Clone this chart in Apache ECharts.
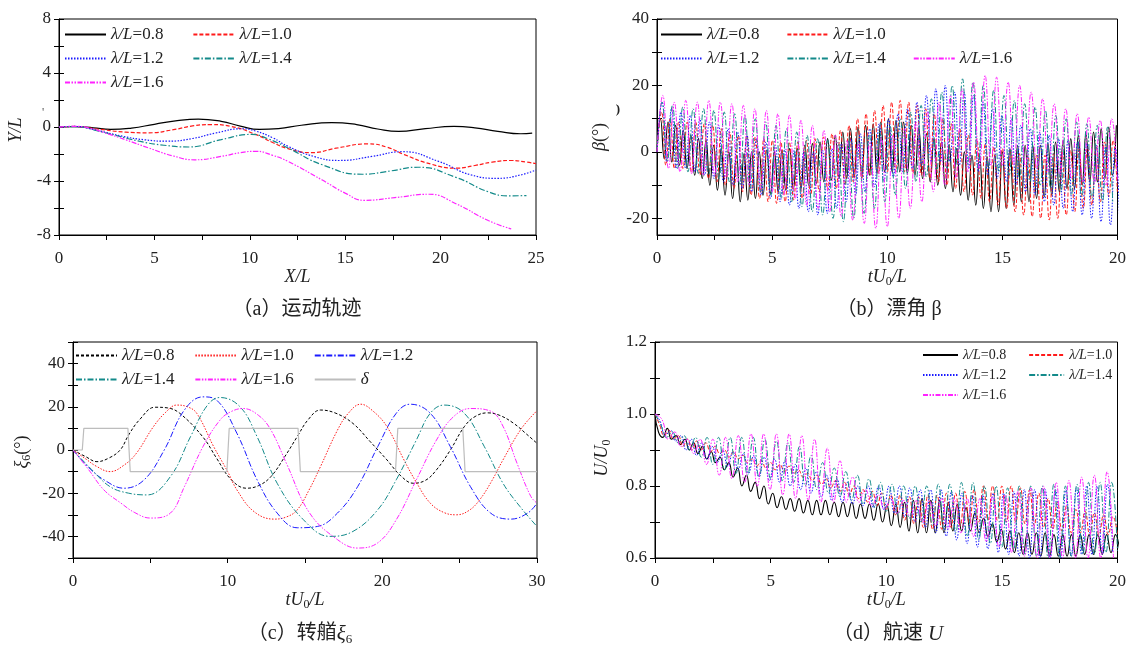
<!DOCTYPE html>
<html><head><meta charset="utf-8">
<script src="https://cdn.jsdelivr.net/npm/echarts@6.0.0/dist/echarts.min.js"></script>
<style>html,body{margin:0;padding:0;background:#fff}#c{width:1129px;height:646px}</style>
</head><body><div id="c"></div>
<script>
// ---------- DATA ----------
// (a) trajectories [X/L, Y/L]
const traj08 = [[0,0],[0.8,0.03],[1.8,-0.06],[2.7,-0.18],[3.8,-0.08],[5,0.2],[6.2,0.47],[7.3,0.58],[8.5,0.42],[9.5,0.07],[10.5,-0.18],[11.5,-0.12],[12.7,0.13],[14.3,0.33],[15.6,0.18],[16.7,-0.15],[17.8,-0.33],[19.2,-0.12],[20.7,0.04],[21.8,-0.06],[23,-0.32],[24.2,-0.5],[24.8,-0.45]];
const traj10 = [[0,0],[0.8,0.04],[2,-0.15],[3.5,-0.38],[4.7,-0.43],[6,-0.2],[7,0.08],[8,0.18],[9,0.05],[10.3,-0.55],[11.2,-1.15],[12,-1.6],[13.2,-1.9],[14.6,-1.55],[16.2,-1.25],[17.2,-1.5],[18.1,-2.05],[19.5,-2.75],[20.8,-3.05],[21.8,-2.85],[22.7,-2.6],[23.7,-2.48],[24.5,-2.6],[25,-2.72]];
const traj12 = [[0,0],[0.8,0.04],[2,-0.25],[3.3,-0.68],[4.5,-0.95],[5.7,-1.05],[7,-0.85],[8.2,-0.45],[9.6,-0.13],[10.3,-0.3],[11.2,-0.8],[12,-1.43],[13.4,-2.2],[14.7,-2.48],[16.4,-2.18],[18,-1.83],[19.9,-2.55],[21.6,-3.55],[23,-3.8],[24.2,-3.55],[25,-3.18]];
const traj14 = [[0,0],[0.8,0.03],[2.2,-0.35],[4.2,-1.05],[5.5,-1.35],[6.8,-1.48],[8.5,-0.93],[10.1,-0.55],[11,-0.9],[12,-1.55],[13.8,-2.8],[15.9,-3.5],[17.4,-3.25],[18.8,-2.98],[20.8,-3.73],[22.5,-4.8],[23.6,-5.1],[24.5,-5.08]];
const traj16 = [[0,0],[0.8,0.05],[1.5,-0.05],[2.4,-0.43],[3.5,-0.95],[4.7,-1.55],[6,-2.15],[7.1,-2.43],[8.5,-2.18],[9.5,-1.9],[10.3,-1.8],[11.2,-2.1],[12,-2.55],[13.8,-3.93],[15,-4.9],[16,-5.43],[17.6,-5.23],[19.4,-4.98],[20.8,-5.68],[22.5,-6.93],[23.7,-7.55]];

// (b) drift angle: alternating peak/trough values, first extreme time t0, half period dt
const beta08 = {start:0, t0:0.15, dt:0.165, ext:[10,-2,9,-3,8,-4,6.5,-5,5,-7,4,-8,3.5,-10,2,-11.5,1,-13,0,-14,-1,-15,-0.5,-14.5,0,-14,0,-13,0.5,-12.5,0,-12,0.5,-11.5,1,-11,1,-11,2,-10,2.5,-9.5,3,-9,4,-8.5,5,-8,6,-8,7,-7.5,7.5,-7,8,-7,8.5,-6.5,9,-6,10,-6,9.5,-6,9,-6.5,8,-7,7,-8,5.5,-9,4,-10,3,-11,2,-12,1,-13,0,-14.5,-1,-16,-1,-17,-1.5,-18,-1,-18,0,-17,1,-16,2,-15,2,-15,2,-14,2,-13.5,2.5,-13,3,-12,3.5,-11,4,-11,5,-10,5.5,-9,6,-9,7,-8,7.5,-7,8]};
const beta10 = {start:0, t0:0.2, dt:0.185, ext:[12,-4,10,-5,9,-5,9,-6,9,-7,8.5,-8,8,-9,7,-10,6,-11,5,-12,5,-13,4.5,-14,4,-15,3.5,-15.5,3,-15,3,-14.5,3,-14,3.5,-13,4,-12,4.5,-11.5,5.5,-11,6.5,-10,8,-9,10,-8,11.5,-7,12.5,-6.5,14,-6,15,-6,15.5,-6,15,-6.5,14,-7,13,-8,11.5,-9,10,-10,8.5,-11,7,-12,5,-13,4,-14,2.5,-15,1.5,-16,1,-17,0,-18,-0.5,-19,-1,-19.5,-1,-20,-1,-20.5,-0.5,-20,0,-19,0.5,-18,1,-17,1.5,-16,2,-15,3,-13.5,3.5,-12]};
const beta12 = {start:0, t0:0.22, dt:0.205, ext:[15,-3,13,-5,12,-5,11,-6,10,-7,9,-8,8,-9,7,-10,6,-11,5,-12,4,-13,3,-14,2,-15,1,-16,0.5,-17,0,-18,0,-19,0.5,-18.5,1,-17,2.5,-15,4,-13,5.5,-12,7,-10.5,8.5,-9,10,-7.5,11.5,-6,13,-5,15,-4,17,-3,19,-3,20,-3,18,-4,18,-5,17,-6,15,-7,13,-8,11,-9,10,-10,8,-12,7,-13,6,-15,5,-16,4,-17,3.5,-18,3,-19,2.5,-20,2,-21,2,-22,1.5,-23]};
const beta14 = {start:0, t0:0.22, dt:0.225, ext:[15,-3,14,-5,13.5,-6,13,-6.5,13,-7,12.5,-8,12,-9,11.5,-10,11,-11,10,-12,9,-13,8,-14,7,-15,6,-16.5,5,-18,4,-19,3.5,-20,3,-21,3.5,-20,4,-18.5,5,-17,6,-15,8,-13,10,-11,12,-9,14,-7.5,16,-6,18,-5,20,-4,22,-4,21,-4.5,20,-5,18.5,-6,17,-7,15.5,-8,14.5,-9,13.5,-10,12.5,-11,11,-12,10,-13,9,-13.5,8.5,-14,8,-15,7.5,-15.5]};
const beta16 = {start:0, t0:0.25, dt:0.25, ext:[17,-5,15,-6,15.5,-6.5,15,-7,15.5,-7,15,-8,14.5,-9,14,-10,13,-11,12.5,-12,11.5,-13,11,-14,9.5,-16,8,-17,6.5,-18,5,-19.5,3.5,-20.5,3,-21.5,3,-23,4,-22.5,5,-20,7,-17,9,-15,12,-12,15,-10,17,-8,19,-6,21,-5,23,-4,22.5,-4,21,-4,20,-4.5,18,-5,16,-6,14.5,-7,13,-8,11.5,-9,10.5,-9.5,9.5,-10,10,-9]};

// (c) yaw angle [tU0/L, deg]
const yaw08 = [[0,0],[0.8,-3],[1.55,-5.4],[2.3,-3.8],[3.05,0],[3.6,7],[4.3,14],[5.3,19.8],[6.1,19.5],[6.9,17],[8.4,6],[9.3,-4],[10.2,-13.5],[11.2,-17.7],[12,-16.5],[12.8,-12.3],[13.7,-3],[14.5,6.2],[15.2,14],[16,18.5],[17,17],[18.1,12.3],[19.2,4],[20.3,-4.6],[21.2,-12],[22,-15.4],[22.8,-14],[23.5,-9.2],[24.4,0],[25.3,10.8],[26,15.5],[26.8,17.2],[27.6,16],[28.5,12.3],[29.3,7.5],[30,3.1]];
const yaw10 = [[0,0],[0.8,-4],[1.5,-7.5],[2.4,-10],[3.3,-7],[4.1,-1.5],[5.2,10.8],[6,17.5],[6.7,20.8],[7.4,20],[8,17],[9.1,1.5],[10,-10],[10.6,-18.5],[11.7,-28.5],[13,-32],[13.8,-31],[14.5,-27.7],[15.3,-18],[16,-7.7],[17.1,9.2],[17.8,17],[18.6,21.2],[19.4,18],[20.3,10.8],[21.4,-4.6],[22.2,-15],[23.1,-24.6],[24,-29],[24.8,-30],[25.6,-28],[26.3,-23],[27.1,-14],[27.8,-4.6],[29,10],[30,18.2]];
const yaw12 = [[0,0],[1,-8],[2,-13.8],[3.3,-17.7],[4.6,-13.8],[5.9,0],[7.2,18.5],[8.4,24.6],[9.3,23],[10.6,7.7],[11.9,-13.8],[13.2,-29.2],[14.5,-36],[15.8,-35.4],[17.1,-29.2],[18.4,-17],[19.7,1.5],[20.9,17],[21.8,21.2],[23.1,17],[24.4,1.5],[25.7,-17],[27,-29.2],[28.3,-32],[29.4,-29.2],[30,-24.6]];
const yaw14 = [[0,0],[1.2,-9],[2.4,-17],[3.6,-20],[4.8,-20.8],[6.3,-12.3],[7.6,6.2],[8.7,20.8],[9.5,24.3],[10.8,20],[11.9,6.2],[13.2,-15.4],[14.9,-32.3],[16.6,-40],[18.1,-37.7],[19.7,-27.7],[20.9,-13.8],[22.2,4.6],[23.1,17],[24,20.8],[25.3,17],[26.6,1.5],[27.8,-15.4],[28.9,-26.2],[30,-35.4]];
const yaw16 = [[0,0],[1,-9],[2,-18.5],[3.1,-24.6],[4,-29],[5,-31.5],[6.3,-29.2],[7.2,-17],[8.4,1.5],[9.5,13.8],[10.2,17.7],[11,19.2],[12,16],[12.8,9.2],[13.8,-6.2],[15.3,-29.2],[17.1,-41.5],[18.4,-45.4],[19.7,-43],[20.9,-32.3],[22.2,-13.8],[23.5,4.6],[24.6,15.4],[25.7,19.2],[27,18],[27.8,11],[28.7,-6],[29.6,-21.5],[30,-24.6]];
const rudder = [[0,0],[0.6,0],[0.7,10],[3.55,10],[3.7,-10],[9.95,-10],[10.1,10],[14.55,10],[14.7,-10],[20.85,-10],[21,10],[25.2,10],[25.35,-10],[30,-10]];

// (d) speed U/U0: alternating peak/trough values
const speed08 = {start:1.0, t0:0.15, dt:0.19, ext:[.95,.935,.96,.93,.94,.915,.93,.90,.92,.89,.91,.875,.895,.865,.88,.845,.865,.825,.85,.80,.83,.785,.81,.765,.80,.75,.78,.74,.77,.735,.765,.73,.765,.725,.76,.72,.76,.72,.76,.72,.755,.715,.755,.715,.755,.71,.75,.71,.75,.705,.75,.70,.745,.69,.75,.685,.755,.675,.76,.67,.765,.67,.76,.67,.76,.67,.755,.675,.75,.675,.74,.675,.725,.67,.71,.66,.695,.645,.68,.625,.675,.615,.67,.61,.67,.61,.67,.605,.67,.605,.665,.605,.665,.605,.665,.605,.665,.61,.665,.61,.665,.61,.665,.615,.665,.62]};
const speed10 = {start:1.0, t0:0.2, dt:0.2, ext:[.97,.94,.955,.93,.94,.91,.93,.90,.925,.90,.92,.895,.91,.89,.90,.88,.895,.875,.885,.865,.875,.855,.87,.85,.865,.845,.86,.84,.855,.835,.845,.825,.835,.815,.83,.805,.82,.795,.815,.785,.81,.775,.80,.765,.79,.755,.785,.745,.78,.735,.775,.72,.775,.705,.77,.695,.77,.685,.775,.68,.775,.68,.78,.685,.78,.69,.785,.695,.79,.70,.80,.705,.80,.705,.80,.70,.80,.70,.795,.695,.79,.69,.78,.685,.765,.68,.755,.675,.745,.67,.735,.67,.73,.665,.725,.665,.72,.665,.715,.665]};
const speed12 = {start:1.0, t0:0.22, dt:0.225, ext:[.98,.94,.955,.925,.94,.90,.93,.885,.92,.875,.91,.865,.90,.855,.895,.845,.89,.835,.885,.825,.88,.815,.875,.81,.87,.80,.86,.79,.85,.78,.84,.77,.83,.76,.82,.755,.81,.75,.80,.745,.80,.74,.80,.735,.80,.725,.80,.715,.795,.70,.79,.685,.79,.67,.79,.66,.785,.65,.78,.64,.775,.63,.775,.625,.78,.615,.78,.61,.785,.605,.79,.60,.79,.60,.79,.60,.79,.60,.79,.605,.795,.61,.80,.61,.80,.61,.805,.615]};
const speed14 = {start:1.0, t0:0.25, dt:0.25, ext:[.97,.935,.95,.92,.94,.90,.935,.88,.935,.86,.935,.845,.935,.835,.935,.83,.935,.825,.93,.82,.925,.815,.92,.81,.91,.80,.885,.79,.865,.78,.85,.77,.84,.76,.83,.75,.82,.74,.81,.73,.805,.72,.80,.71,.80,.70,.80,.69,.805,.68,.805,.67,.81,.66,.81,.65,.80,.64,.80,.63,.795,.62,.80,.61,.80,.605,.80,.60,.805,.60,.80,.605,.805,.61,.81,.61,.81,.615,.81,.62]};
const speed16 = {start:1.0, t0:0.3, dt:0.275, ext:[.985,.93,.95,.91,.93,.89,.93,.86,.93,.83,.935,.82,.94,.81,.945,.80,.945,.79,.945,.775,.945,.765,.94,.76,.93,.755,.905,.755,.87,.755,.825,.755,.79,.745,.775,.735,.765,.725,.76,.715,.76,.70,.76,.69,.765,.68,.765,.67,.765,.66,.765,.645,.77,.63,.775,.615,.785,.605,.795,.60,.80,.60,.81,.60,.815,.60,.825,.60,.83,.60,.84,.60]};

// tick / label values
const aXTicks = [0,2.5,5,7.5,10,12.5,15,17.5,20,22.5,25], aXLabels = [0,5,10,15,20,25];
const aYTicks = [-8,-6,-4,-2,0,2,4,6,8], aYLabels = [-8,-4,0,4,8];
const bXTicks = [0,2.5,5,7.5,10,12.5,15,17.5,20], bXLabels = [0,5,10,15,20];
const bYTicks = [-20,-10,0,10,20,30,40], bYLabels = [-20,0,20,40];
const cXTicks = [0,5,10,15,20,25,30], cXLabels = [0,10,20,30];
const cYTicks = [-50,-40,-30,-20,-10,0,10,20,30,40,50], cYLabels = [-40,-20,0,20,40];
const dXTicks = bXTicks, dXLabels = bXLabels;
const dYTicks = [0.6,0.7,0.8,0.9,1.0,1.1,1.2], dYLabels = [0.6,0.8,1.0,1.2];

// ---------- BUILD ----------
function osc(s){
  const pts=[[0,s.start]];
  s.ext.forEach((v,i)=>pts.push([+(s.t0+i*s.dt).toFixed(4), v]));
  return pts;
}
const SERIF = '"Liberation Serif","Times New Roman",serif';
const CAP = '"Liberation Serif","Noto Sans CJK SC",serif';
const TXT = '#222';
const C = {k:'#000000', r:'#ff1a1a', b:'#1a1aff', t:'#138a8a', m:'#ff22ff', g:'#bdbdbd'};
const D = {solid:'solid', dash:[4,2], dot:[1.5,1.5], dashdot:[6,2,1.5,2], dashdd:[5,1.5,1.5,1.5,1.5,1.5], sdash:[3,2]};

const richName = (fs)=>({
  i:{fontStyle:'italic', fontFamily:SERIF, fontSize:fs, color:TXT, lineHeight:22},
  n:{fontFamily:SERIF, fontSize:fs, color:TXT, lineHeight:22},
  s:{fontFamily:SERIF, fontSize:Math.round(fs*0.65), color:TXT, lineHeight:12, verticalAlign:'bottom'}
});
const tU = '{i|tU}{s|0}{i|/L}';

function xAx(gi,min,max,ticks,labels,name,fmt){
  return {gridIndex:gi,type:'value',min,max,name,nameLocation:'middle',nameGap:27,
    nameTextStyle:{rich:richName(18)},
    axisLine:{show:true,onZero:false,lineStyle:{color:'#000',width:1}},
    axisTick:{show:true,inside:false,length:5,customValues:ticks,lineStyle:{color:'#000'}},
    axisLabel:{customValues:labels,margin:15,fontSize:17,fontFamily:SERIF,color:TXT,formatter:fmt||(v=>String(v))},
    splitLine:{show:false}};
}
function yAx(gi,min,max,ticks,labels,name,gap,pad,fmt){
  return {gridIndex:gi,type:'value',min,max,name,nameLocation:'middle',nameGap:gap,nameRotate:90,
    nameTextStyle:{rich:richName(18),padding:pad},
    axisLine:{show:true,onZero:false,lineStyle:{color:'#000',width:1}},
    axisTick:{show:true,inside:false,length:5,customValues:ticks,lineStyle:{color:'#000'}},
    axisLabel:{customValues:labels,margin:8,fontSize:17,fontFamily:SERIF,color:TXT,formatter:fmt||(v=>String(v))},
    splitLine:{show:false}};
}
function yMirror(gi,min,max,ticks){
  return {gridIndex:gi,type:'value',position:'right',min,max,
    axisLine:{show:false},axisLabel:{show:false},splitLine:{show:false},
    axisTick:{show:true,inside:false,length:5,customValues:ticks,lineStyle:{color:'#000'}}};
}
function ser(name,gi,data,color,type,width,smooth){
  return {name,type:'line',xAxisIndex:gi,yAxisIndex:gi,data,symbol:'none',showSymbol:false,
    smooth:smooth,lineStyle:{color,type,width},itemStyle:{color},animation:false,clip:true};
}
const legFmt = n=>{const v=n.slice(1); return v==='δ'?'{i|δ}':'{i|λ/L}{n|='+v+'}';};
function leg(names,left,top,fs,iw,gap){
  return {data:names,left,top,orient:'horizontal',padding:0,itemWidth:iw,itemHeight:12,itemGap:gap,
    selectedMode:false,formatter:legFmt,itemStyle:{opacity:0},
    textStyle:{fontSize:fs,fontFamily:SERIF,color:TXT,
      rich:{i:{fontStyle:'italic',fontSize:fs,fontFamily:SERIF,color:TXT},n:{fontSize:fs,fontFamily:SERIF,color:TXT}}}};
}
const f1 = v=>v.toFixed(1);

const option = {
  backgroundColor:'#fff',
  animation:false,
  grid:[
    {left:59,top:19,width:477,height:216,show:true,borderColor:'#000',borderWidth:1},
    {left:657,top:19,width:464,height:216,show:true,borderColor:'#000',borderWidth:1},
    {left:73,top:342,width:464,height:216,show:true,borderColor:'#000',borderWidth:1},
    {left:655,top:342,width:465,height:216,show:true,borderColor:'#000',borderWidth:1}
  ],
  xAxis:[
    xAx(0,0,25,aXTicks,aXLabels,'{i|X/L}'),
    xAx(1,0,20,bXTicks,bXLabels,tU),
    xAx(2,0,30,cXTicks,cXLabels,tU),
    xAx(3,0,20,dXTicks,dXLabels,tU)
  ],
  yAxis:[
    yAx(0,-8,8,aYTicks,aYLabels,'{i|Y/L}',32,[0,6,0,0]),
    yAx(1,-25,40,bYTicks,bYLabels,'{i|β}{n|(°)}',46,[0,20,0,0]),
    yAx(2,-50,50,cYTicks,cYLabels,'{i|ξ}{s|6}{n|(°)}',40,[0,4,0,0]),
    yAx(3,0.6,1.2,dYTicks,dYLabels,'{i|U/U}{s|0}',42,[0,16,0,0],f1),
    yMirror(0,-8,8,aYTicks), yMirror(1,-25,40,bYTicks), yMirror(2,-50,50,cYTicks), yMirror(3,0.6,1.2,dYTicks)
  ],
  legend:[
    leg(['a0.8','a1.0'],64,26,17,41,29),
    leg(['a1.2','a1.4'],64,50,17,41,29),
    leg(['a1.6'],64,74,17,41,29),
    leg(['b0.8','b1.0'],660,26,17,41,27),
    leg(['b1.2','b1.4','b1.6'],660,50,17,41,27),
    leg(['c0.8','c1.0','c1.2'],75,347,17,41,20),
    leg(['c1.4','c1.6','cδ'],75,371,17,41,20),
    leg(['d0.8','d1.0'],922,348,14,35,22),
    leg(['d1.2','d1.4'],922,368,14,35,22),
    leg(['d1.6'],922,388,14,35,22)
  ],
  series:[
    ser('a0.8',0,traj08,C.k,D.solid,1.2,0.5),
    ser('a1.0',0,traj10,C.r,D.dash,1.2,0.5),
    ser('a1.2',0,traj12,C.b,D.dot,1.2,0.5),
    ser('a1.4',0,traj14,C.t,D.dashdot,1.2,0.5),
    ser('a1.6',0,traj16,C.m,D.dashdd,1.2,0.5),

    ser('b0.8',1,osc(beta08),C.k,D.solid,1.1,0.5),
    ser('b1.0',1,osc(beta10),C.r,D.dash,1,0.5),
    ser('b1.2',1,osc(beta12),C.b,D.dot,1,0.5),
    ser('b1.4',1,osc(beta14),C.t,D.dashdot,1,0.5),
    ser('b1.6',1,osc(beta16),C.m,D.dashdd,1,0.5),

    ser('c0.8',2,yaw08,C.k,D.sdash,1,0.4),
    ser('c1.0',2,yaw10,C.r,D.dot,1,0.4),
    ser('c1.2',2,yaw12,C.b,D.dashdot,1,0.4),
    ser('c1.4',2,yaw14,C.t,D.dashdot,1,0.4),
    ser('c1.6',2,yaw16,C.m,D.dashdd,1,0.4),
    ser('cδ',2,rudder,C.g,D.solid,1.2,false),

    ser('d0.8',3,osc(speed08),C.k,D.solid,1.1,0.5),
    ser('d1.0',3,osc(speed10),C.r,D.dash,1,0.5),
    ser('d1.2',3,osc(speed12),C.b,D.dot,1,0.5),
    ser('d1.4',3,osc(speed14),C.t,D.dashdot,1,0.5),
    ser('d1.6',3,osc(speed16),C.m,D.dashdd,1,0.5)
  ],
  graphic:[
    {type:'text',x:297,y:310,style:{text:'（a）运动轨迹',font:'20px '+CAP,fill:TXT,align:'center',verticalAlign:'middle',textAlign:'center',textVerticalAlign:'middle'}},
    {type:'text',x:889,y:310,style:{text:'（b）漂角 β',font:'20px '+CAP,fill:TXT,align:'center',verticalAlign:'middle',textAlign:'center',textVerticalAlign:'middle'}},
    {type:'text',x:300,y:634,style:{text:'{n|（c）转艏}{i|ξ}{s|6}',align:'center',verticalAlign:'middle',textAlign:'center',textVerticalAlign:'middle',
      rich:{n:{fontFamily:CAP,fontSize:20,fill:TXT,lineHeight:24},i:{fontFamily:SERIF,fontStyle:'italic',fontSize:21,fill:TXT,lineHeight:24},s:{fontFamily:SERIF,fontSize:13,fill:TXT,lineHeight:12,verticalAlign:'bottom'}}}},
    {type:'text',x:888,y:634,style:{text:'{n|（d）航速 }{i|U}',align:'center',verticalAlign:'middle',textAlign:'center',textVerticalAlign:'middle',
      rich:{n:{fontFamily:CAP,fontSize:20,fill:TXT},i:{fontFamily:SERIF,fontStyle:'italic',fontSize:21,fill:TXT}}}},
    {type:'text',x:43,y:113,style:{text:'\'',font:'12px '+SERIF,fill:'#555',align:'center',verticalAlign:'middle'}},
    {type:'text',x:618,y:110,style:{text:')',font:'bold 13px '+SERIF,fill:'#222',align:'center',verticalAlign:'middle'}}
  ]
};
const chart = echarts.init(document.getElementById('c'),null,{renderer:'canvas'});
chart.setOption(option);
</script></body></html>
